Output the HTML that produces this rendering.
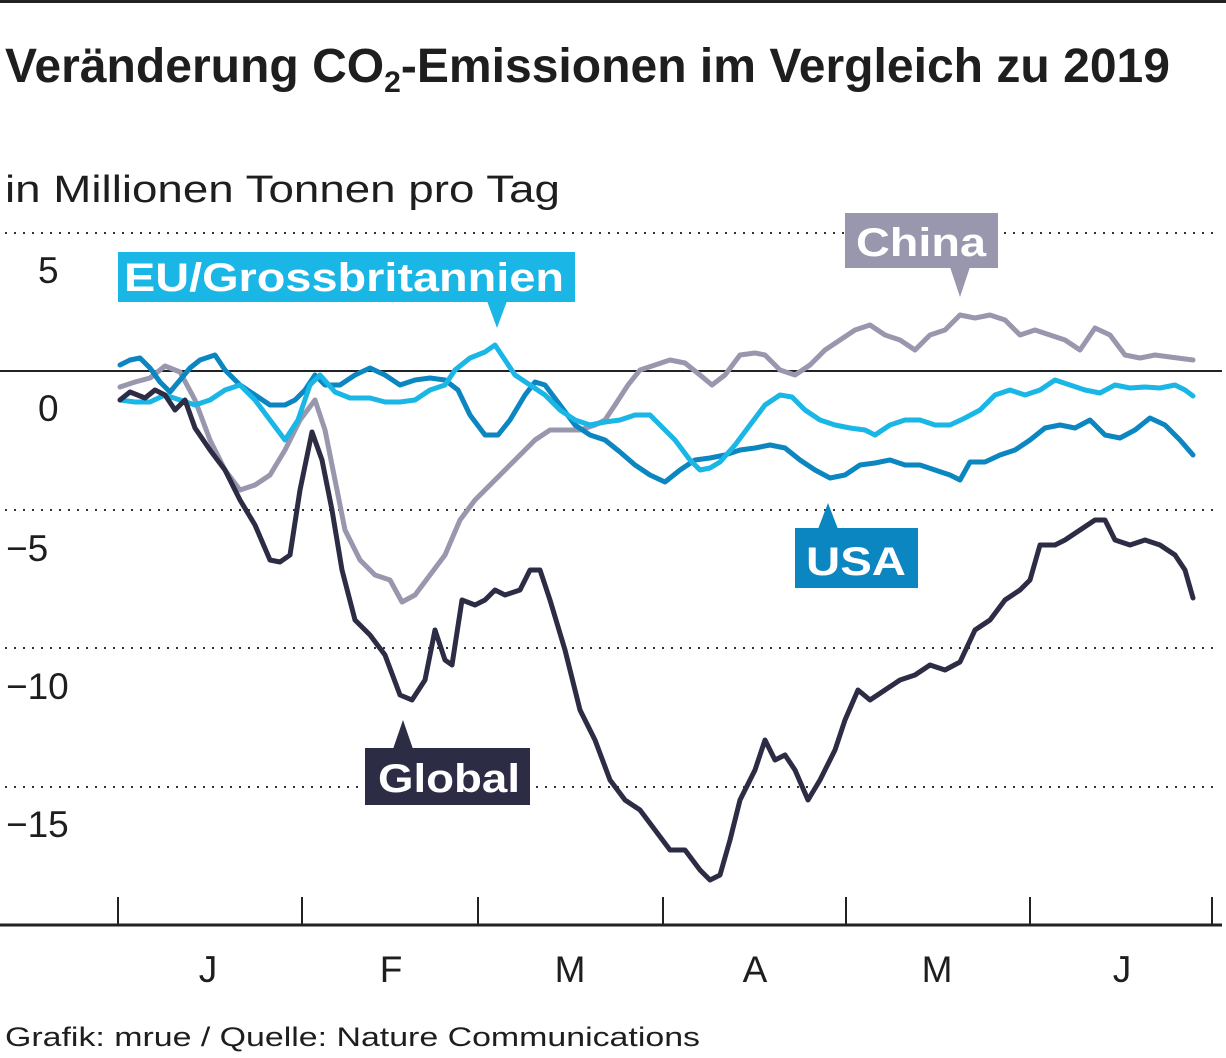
<!DOCTYPE html>
<html><head><meta charset="utf-8">
<style>
html,body{margin:0;padding:0;background:#fff;}
svg{display:block;}
text{font-family:"Liberation Sans",Arial,sans-serif;}
</style></head><body>
<svg width="1226" height="1058" viewBox="0 0 1226 1058" xmlns="http://www.w3.org/2000/svg">
<rect x="0" y="0" width="1226" height="3" fill="#222"/>
<text x="5" y="82" font-family="Liberation Sans Narrow,Liberation Sans,sans-serif" font-weight="bold" font-size="48" fill="#1e1e1e" textLength="1165" lengthAdjust="spacingAndGlyphs">Veränderung CO<tspan font-size="30" dy="10">2</tspan><tspan dy="-10">-Emissionen im Vergleich zu 2019</tspan></text>
<text x="5" y="202" font-size="38" fill="#1e1e1e" textLength="555" lengthAdjust="spacingAndGlyphs">in Millionen Tonnen pro Tag</text>
<g stroke="#333" stroke-width="2" stroke-dasharray="2,7">
<line x1="5" y1="233" x2="1220" y2="233"/>
<line x1="5" y1="510" x2="1220" y2="510"/>
<line x1="5" y1="648" x2="1220" y2="648"/>
<line x1="5" y1="787" x2="1220" y2="787"/>
</g>
<line x1="0" y1="371" x2="1222" y2="371" stroke="#222" stroke-width="2"/>
<line x1="0" y1="925" x2="1222" y2="925" stroke="#222" stroke-width="3"/>
<g font-size="37" fill="#1e1e1e">
<text x="38" y="283">5</text>
<text x="38" y="421">0</text>
<text x="6" y="561">−5</text>
<text x="6" y="699">−10</text>
<text x="6" y="837">−15</text>
</g>
<g stroke="#222" stroke-width="2">
<line x1="118" y1="897" x2="118" y2="925"/><line x1="302" y1="897" x2="302" y2="925"/>
<line x1="478" y1="897" x2="478" y2="925"/><line x1="663" y1="897" x2="663" y2="925"/>
<line x1="846" y1="897" x2="846" y2="925"/><line x1="1030" y1="897" x2="1030" y2="925"/>
<line x1="1212" y1="897" x2="1212" y2="925"/>
</g>
<g font-size="37" fill="#1e1e1e" text-anchor="middle">
<text x="208" y="982">J</text><text x="391" y="982">F</text><text x="570" y="982">M</text>
<text x="755" y="982">A</text><text x="937" y="982">M</text><text x="1122" y="982">J</text>
</g>
<text x="5" y="1046" font-size="27" fill="#1e1e1e" textLength="695" lengthAdjust="spacingAndGlyphs">Grafik: mrue / Quelle: Nature Communications</text>
<g fill="none" stroke-width="5" stroke-linejoin="round" stroke-linecap="round">
<polyline stroke="#9897ad" points="120,387 135,382 150,378 165,366 180,372 195,400 210,440 225,470 240,490 255,485 270,475 285,450 300,420 315,400 325,430 335,480 345,530 360,560 375,575 390,580 402,602 415,595 430,575 445,555 460,520 475,500 490,485 505,470 520,455 535,440 550,430 565,430 580,430 595,425 605,420 615,405 628,385 640,370 655,365 670,360 685,363 700,375 712,385 725,375 740,355 755,353 765,355 780,370 795,375 810,365 825,350 840,340 855,330 870,325 885,335 900,340 915,350 930,335 945,330 960,315 975,318 990,315 1005,320 1020,335 1035,330 1050,335 1065,340 1080,350 1095,328 1110,335 1125,355 1140,358 1155,355 1170,357 1193,360"/>
<polyline stroke="#0b86c0" points="120,365 130,360 140,358 150,368 160,382 170,392 180,380 190,368 200,360 215,355 225,370 240,385 255,395 270,405 285,405 295,400 305,390 315,375 325,385 340,385 355,375 370,368 385,375 400,385 415,380 430,378 445,380 458,390 470,415 485,435 498,435 510,420 525,395 535,382 545,385 560,405 575,425 590,435 605,440 620,452 635,465 650,475 665,482 680,470 695,460 710,458 725,455 740,450 755,448 770,445 785,448 800,460 815,470 830,478 845,475 860,465 875,463 890,460 905,465 920,465 935,470 950,475 960,480 970,462 985,462 1000,455 1015,450 1030,440 1045,428 1060,425 1075,428 1090,420 1105,435 1120,438 1135,430 1150,418 1165,425 1180,440 1193,455"/>
<polyline stroke="#19b6e6" points="120,400 135,402 150,402 165,395 180,400 195,405 210,400 225,390 240,385 255,400 270,420 285,440 298,420 310,385 320,375 335,392 350,398 370,398 385,402 400,402 415,400 430,390 445,385 455,370 470,358 485,352 495,345 505,360 515,375 530,385 545,395 560,410 575,420 590,425 605,422 620,420 635,415 650,415 660,425 675,440 690,460 700,470 710,468 720,462 735,445 750,425 765,405 780,395 792,397 805,410 820,420 835,425 850,428 865,430 875,435 890,425 905,420 920,420 935,425 950,425 965,418 980,410 995,395 1010,390 1025,395 1040,390 1055,380 1070,385 1085,390 1100,393 1115,385 1130,388 1145,387 1160,388 1175,385 1185,390 1193,396"/>
<polyline stroke="#2d2c45" points="120,400 130,392 145,398 155,390 165,395 175,410 185,400 195,428 210,450 225,470 240,500 255,525 270,560 280,562 290,555 300,490 312,432 322,460 332,510 342,570 355,620 370,635 385,655 400,695 412,700 425,680 435,630 445,660 452,665 462,600 475,605 485,600 495,590 505,595 520,590 530,570 540,570 550,600 565,650 580,710 595,740 610,780 625,800 640,810 655,830 670,850 685,850 700,870 710,880 720,875 730,840 740,800 755,770 765,740 775,760 785,755 795,770 808,800 820,780 835,750 845,720 858,690 870,700 885,690 900,680 915,675 930,665 945,670 960,662 975,630 990,620 1005,600 1020,590 1030,580 1040,545 1055,545 1065,540 1080,530 1095,520 1105,520 1115,540 1130,545 1145,540 1160,545 1175,555 1185,570 1193,598"/>
</g>
<g font-weight="bold" font-size="40" fill="#fff">
<rect x="118" y="252" width="457" height="50" fill="#19b6e6"/><polygon points="487,301 507,301 497,328" fill="#19b6e6"/>
<text x="124" y="291" textLength="440" lengthAdjust="spacingAndGlyphs">EU/Grossbritannien</text>
<rect x="845" y="213" width="153" height="55" fill="#9897ad"/><polygon points="950,267 970,267 960,297" fill="#9897ad"/>
<text x="856" y="256" textLength="130" lengthAdjust="spacingAndGlyphs">China</text>
<rect x="795" y="528" width="123" height="60" fill="#0b86c0"/><polygon points="818,529 838,529 828,503" fill="#0b86c0"/>
<text x="806" y="575" textLength="100" lengthAdjust="spacingAndGlyphs">USA</text>
<rect x="365" y="748" width="165" height="57" fill="#2d2c45"/><polygon points="393,749 413,749 403,720" fill="#2d2c45"/>
<text x="378" y="792" textLength="142" lengthAdjust="spacingAndGlyphs">Global</text>
</g>
</svg>
</body></html>
